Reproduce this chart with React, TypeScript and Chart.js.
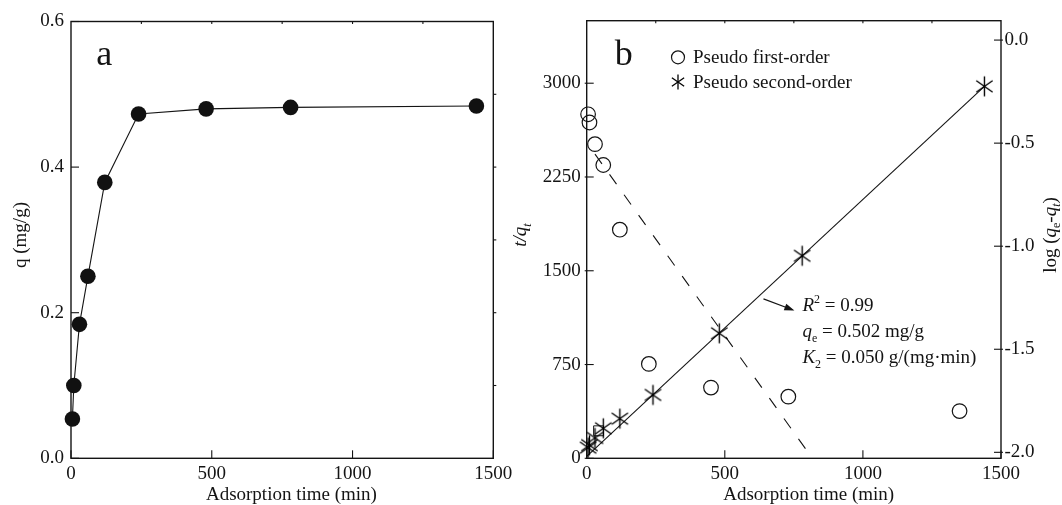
import React, { useEffect, useRef } from "react";
import { Chart, registerables } from "chart.js";

Chart.register(...registerables);

const W = 1062;
const H = 505;
const SERIF = "'Liberation Serif', 'Times New Roman', Times, serif";
const INK = "#141414";

// ---------- Panel a : q vs time ----------
const TIME_A = [5, 10, 30, 60, 120, 240, 480, 780, 1440];
const Q_A = [0.054, 0.1, 0.184, 0.25, 0.379, 0.473, 0.48, 0.482, 0.484];
const X_TICKS = [0, 500, 1000, 1500];
const X_MINOR = [250, 500, 750, 1000, 1250];
const Y_TICKS_A = [0, 0.2, 0.4, 0.6];
const Y_MINOR_A = [0.1, 0.2, 0.3, 0.4, 0.5];

// ---------- Panel b : kinetic fits ----------
const TIME_PSO = [5, 10, 30, 60, 120, 240, 480, 780, 1440];
const T_OVER_Q = [85, 105, 163, 240, 317, 507, 1000, 1620, 2975];
const TIME_PFO = [5, 10, 30, 60, 120, 225, 450, 730, 1350];
const LOG_QE_QT = [-0.36, -0.4, -0.505, -0.606, -0.92, -1.571, -1.686, -1.73, -1.8];
const PSO_FIT_T = [0, 1440];
const PSO_FIT_Y = [15, 2975];
const PFO_FIT_T = [30, 792];
const PFO_FIT_Y = [-0.553, -1.982];
const STRAY_T = [43];
const STRAY_Y = [220];
const Y_TICKS_B = [0, 750, 1500, 2250, 3000];
const Y2_TICKS_B = [0, -0.5, -1.0, -1.5, -2.0];
const LEGEND_LABELS = ["Pseudo first-order", "Pseudo second-order"];

type Run = { t: string; it?: boolean; sub?: boolean; sup?: boolean };

function runFont(r: Run, size: number) {
  const s = r.sub || r.sup ? Math.round(size * 0.63) : size;
  return `${r.it ? "italic " : ""}${s}px ${SERIF}`;
}
function richWidth(ctx: CanvasRenderingContext2D, runs: Run[], size: number) {
  let w = 0;
  runs.forEach((r) => {
    ctx.font = runFont(r, size);
    w += ctx.measureText(r.t).width;
  });
  return w;
}
function drawRich(ctx: CanvasRenderingContext2D, runs: Run[], x: number, y: number, size: number) {
  let cx = x;
  ctx.textAlign = "left";
  ctx.textBaseline = "alphabetic";
  runs.forEach((r) => {
    ctx.font = runFont(r, size);
    const dy = r.sub ? size * 0.24 : r.sup ? -size * 0.38 : 0;
    ctx.fillText(r.t, cx, y + dy);
    cx += ctx.measureText(r.t).width;
  });
}
function drawRichCentered(ctx: CanvasRenderingContext2D, runs: Run[], cx: number, y: number, size: number) {
  const w = richWidth(ctx, runs, size);
  drawRich(ctx, runs, cx - w / 2, y, size);
}
function drawRichRotated(ctx: CanvasRenderingContext2D, runs: Run[], bx: number, cy: number, size: number) {
  const w = richWidth(ctx, runs, size);
  ctx.save();
  ctx.translate(bx, cy);
  ctx.rotate(-Math.PI / 2);
  drawRich(ctx, runs, -w / 2, 0, size);
  ctx.restore();
}
function seg(ctx: CanvasRenderingContext2D, x1: number, y1: number, x2: number, y2: number) {
  ctx.beginPath();
  ctx.moveTo(x1, y1);
  ctx.lineTo(x2, y2);
  ctx.stroke();
}
function makeAsterisk(r: number, lw: number) {
  const size = Math.ceil(2 * r + 3);
  const c = document.createElement("canvas");
  c.width = size;
  c.height = size;
  const g = c.getContext("2d")!;
  g.strokeStyle = "#000";
  g.lineWidth = lw;
  const cx = size / 2;
  const cy = size / 2;
  [90, 35, 145].forEach((deg) => {
    const a = (deg * Math.PI) / 180;
    g.beginPath();
    g.moveTo(cx - r * Math.cos(a), cy - r * Math.sin(a));
    g.lineTo(cx + r * Math.cos(a), cy + r * Math.sin(a));
    g.stroke();
  });
  return c;
}

const tickFont = { family: SERIF, size: 19 };
const fixedTicks = (values: number[]) => (s: any) => {
  s.ticks = values.map((v) => ({ value: v }));
};

export default function App() {
  const refA = useRef<HTMLCanvasElement>(null);
  const refB = useRef<HTMLCanvasElement>(null);

  useEffect(() => {
    const star = makeAsterisk(10, 1.4);
    const starLegend = makeAsterisk(7.5, 1.3);

    const frameA = {
      id: "frameA",
      beforeDatasetsDraw(chart: any) {
        const { ctx, chartArea: a, scales } = chart;
        ctx.save();
        ctx.strokeStyle = INK;
        ctx.lineWidth = 1.4;
        ctx.strokeRect(a.left, a.top, a.right - a.left, a.bottom - a.top);
        ctx.lineWidth = 1.1;
        X_TICKS.forEach((v) => {
          const p = scales.x.getPixelForValue(v);
          seg(ctx, p, a.bottom, p, a.bottom - 8);
        });
        Y_TICKS_A.forEach((v) => {
          const p = scales.y.getPixelForValue(v);
          seg(ctx, a.left, p, a.left + 8, p);
        });
        X_MINOR.forEach((v) => {
          const p = scales.x.getPixelForValue(v);
          seg(ctx, p, a.top, p, a.top + 2.5);
        });
        Y_MINOR_A.forEach((v) => {
          const p = scales.y.getPixelForValue(v);
          seg(ctx, a.right, p, a.right + 3, p);
        });
        ctx.restore();
      },
      afterDraw(chart: any) {
        const { ctx } = chart;
        ctx.save();
        ctx.fillStyle = INK;
        drawRich(ctx, [{ t: "a" }], 96.3, 65, 36);
        drawRichRotated(ctx, [{ t: "q (mg/g)" }], 25.5, 235, 19);
        drawRichCentered(ctx, [{ t: "Adsorption time (min)" }], 291.4, 500, 19);
        ctx.restore();
      },
    };

    const frameB = {
      id: "frameB",
      beforeDatasetsDraw(chart: any) {
        const { ctx, chartArea: a, scales } = chart;
        ctx.save();
        ctx.strokeStyle = INK;
        ctx.lineWidth = 1.4;
        ctx.strokeRect(a.left, a.top, a.right - a.left, a.bottom - a.top);
        ctx.lineWidth = 1.1;
        X_TICKS.forEach((v) => {
          const p = scales.x.getPixelForValue(v);
          seg(ctx, p, a.bottom, p, a.bottom - 8);
        });
        X_MINOR.forEach((v) => {
          const p = scales.x.getPixelForValue(v);
          seg(ctx, p, a.top, p, a.top + 2.5);
        });
        Y_TICKS_B.forEach((v) => {
          const p = scales.y.getPixelForValue(v);
          seg(ctx, a.left - 2, p, a.left + 7, p);
        });
        Y2_TICKS_B.forEach((v) => {
          const p = scales.y2.getPixelForValue(v);
          seg(ctx, a.right + 2, p, a.right - 7, p);
        });
        ctx.restore();
      },
      afterDraw(chart: any) {
        const { ctx, scales } = chart;
        const xs = scales.x;
        const ys = scales.y;
        ctx.save();
        ctx.fillStyle = INK;
        ctx.strokeStyle = INK;
        drawRich(ctx, [{ t: "b" }], 614.8, 65, 36);

        // legend
        ctx.lineWidth = 1.2;
        ctx.beginPath();
        ctx.arc(678, 57.3, 6.5, 0, Math.PI * 2);
        ctx.stroke();
        ctx.drawImage(starLegend, Math.round(678 - starLegend.width / 2), Math.round(82.3 - starLegend.height / 2));
        drawRich(ctx, [{ t: LEGEND_LABELS[0] }], 693, 62.5, 19);
        drawRich(ctx, [{ t: LEGEND_LABELS[1] }], 693, 87.5, 19);

        // annotation arrow, anchored in data space
        const tx = xs.getPixelForValue(640);
        const ty = ys.getPixelForValue(1275);
        const hx = xs.getPixelForValue(752);
        const hy = ys.getPixelForValue(1182);
        ctx.lineWidth = 1.1;
        seg(ctx, tx, ty, hx - 2, hy - 0.8);
        const ang = Math.atan2(hy - ty, hx - tx);
        ctx.beginPath();
        ctx.moveTo(hx, hy);
        ctx.lineTo(hx - 10 * Math.cos(ang) + 3.5 * Math.sin(ang), hy - 10 * Math.sin(ang) - 3.5 * Math.cos(ang));
        ctx.lineTo(hx - 10 * Math.cos(ang) - 3.5 * Math.sin(ang), hy - 10 * Math.sin(ang) + 3.5 * Math.cos(ang));
        ctx.closePath();
        ctx.fill();

        const ax = xs.getPixelForValue(781);
        drawRich(ctx, [{ t: "R", it: true }, { t: "2", sup: true }, { t: " = 0.99" }], ax, 310.7, 19);
        drawRich(ctx, [{ t: "q", it: true }, { t: "e", sub: true }, { t: " = 0.502 mg/g" }], ax, 337, 19);
        drawRich(
          ctx,
          [{ t: "K", it: true }, { t: "2", sub: true }, { t: " = 0.050 g/(mg\u00b7min)" }],
          ax,
          363.3,
          19
        );

        // axis titles
        drawRichCentered(ctx, [{ t: "Adsorption time (min)" }], 808.7, 500, 19);
        drawRichRotated(ctx, [{ t: "t/q", it: true }, { t: "t", it: true, sub: true }], 526, 235, 19);
        drawRichRotated(
          ctx,
          [
            { t: "log (" },
            { t: "q", it: true },
            { t: "e", sub: true },
            { t: "-" },
            { t: "q", it: true },
            { t: "t", it: true, sub: true },
            { t: ")" },
          ],
          1055.5,
          235,
          19
        );
        ctx.restore();
      },
    };

    const baseX = (h: number) => ({
      type: "linear" as const,
      position: "bottom" as const,
      min: 0,
      max: 1500,
      afterBuildTicks: fixedTicks(X_TICKS),
      afterFit: (s: any) => {
        s.height = h;
      },
      grid: { display: false, drawTicks: false },
      border: { display: false },
      ticks: {
        color: INK,
        font: tickFont,
        padding: 4,
        maxRotation: 0,
        autoSkip: false,
        callback: (v: any) => String(v),
      },
    });

    const chartA = new Chart(refA.current!, {
      type: "scatter",
      data: {
        datasets: [
          {
            label: "q",
            data: TIME_A.map((t, i) => ({ x: t, y: Q_A[i] })),
            showLine: true,
            borderColor: INK,
            borderWidth: 1.1,
            pointRadius: 7.8,
            pointHoverRadius: 7.8,
            pointBackgroundColor: "#111",
            pointBorderColor: "#111",
            pointBorderWidth: 0,
            clip: false,
          } as any,
        ],
      },
      options: {
        responsive: false,
        animation: false,
        events: [],
        layout: { padding: { left: 0, top: 21.5, right: W - 493.3, bottom: 0 } },
        plugins: { legend: { display: false }, tooltip: { enabled: false } },
        scales: {
          x: baseX(H - 458.3),
          y: {
            type: "linear",
            position: "left",
            min: 0,
            max: 0.6,
            afterBuildTicks: fixedTicks(Y_TICKS_A),
            afterFit: (s: any) => {
              s.width = 71;
            },
            grid: { display: false, drawTicks: false },
            border: { display: false },
            ticks: { color: INK, font: tickFont, padding: 7, callback: (v: any) => Number(v).toFixed(1) },
          },
        },
      } as any,
      plugins: [frameA],
    });

    const chartB = new Chart(refB.current!, {
      type: "scatter",
      data: {
        datasets: [
          {
            label: "Pseudo second-order",
            data: TIME_PSO.map((t, i) => ({ x: t, y: T_OVER_Q[i] })),
            yAxisID: "y",
            showLine: false,
            pointStyle: star,
            pointRadius: 10,
            order: 1,
            clip: false,
          } as any,
          {
            label: "Pseudo first-order",
            data: TIME_PFO.map((t, i) => ({ x: t, y: LOG_QE_QT[i] })),
            yAxisID: "y2",
            showLine: false,
            pointStyle: "circle",
            pointRadius: 7.3,
            pointBackgroundColor: "rgba(255,255,255,0)",
            pointBorderColor: INK,
            pointBorderWidth: 1.2,
            order: 2,
            clip: false,
          } as any,
          {
            label: "stray",
            data: STRAY_T.map((t, i) => ({ x: t, y: STRAY_Y[i] })),
            yAxisID: "y",
            showLine: false,
            pointStyle: "rect",
            pointRadius: 7,
            pointBackgroundColor: "rgba(255,255,255,0)",
            pointBorderColor: INK,
            pointBorderWidth: 1,
            order: 3,
            clip: false,
          } as any,
          {
            label: "PSO fit",
            data: PSO_FIT_T.map((t, i) => ({ x: t, y: PSO_FIT_Y[i] })),
            yAxisID: "y",
            showLine: true,
            borderColor: INK,
            borderWidth: 1.1,
            pointRadius: 0,
            order: 5,
          } as any,
          {
            label: "PFO fit",
            data: PFO_FIT_T.map((t, i) => ({ x: t, y: PFO_FIT_Y[i] })),
            yAxisID: "y2",
            showLine: true,
            borderColor: INK,
            borderWidth: 1.1,
            borderDash: [12, 13],
            pointRadius: 0,
            order: 6,
          } as any,
        ],
      },
      options: {
        responsive: false,
        animation: false,
        events: [],
        layout: { padding: { left: 530, top: 20.7, right: 0, bottom: 0 } },
        plugins: { legend: { display: false }, tooltip: { enabled: false } },
        scales: {
          x: baseX(H - 458.3),
          y: {
            type: "linear",
            position: "left",
            min: 0,
            max: 3500,
            afterBuildTicks: fixedTicks(Y_TICKS_B),
            afterFit: (s: any) => {
              s.width = 586.7 - 530;
            },
            grid: { display: false, drawTicks: false },
            border: { display: false },
            ticks: { color: INK, font: tickFont, padding: 6, callback: (v: any) => String(v) },
          },
          y2: {
            type: "linear",
            position: "right",
            min: -2.029,
            max: 0.094,
            afterBuildTicks: fixedTicks(Y2_TICKS_B),
            afterFit: (s: any) => {
              s.width = W - 1001;
            },
            grid: { display: false, drawTicks: false },
            border: { display: false },
            ticks: { color: INK, font: tickFont, padding: 3.5, callback: (v: any) => Number(v).toFixed(1) },
          },
        },
      } as any,
      plugins: [frameB],
    });

    return () => {
      chartA.destroy();
      chartB.destroy();
    };
  }, []);

  return (
    <div style={{ position: "fixed", left: 0, top: 0, width: W, height: H, background: "#fff" }}>
      <canvas ref={refA} width={W} height={H} style={{ position: "absolute", left: 0, top: 0 }} />
      <canvas ref={refB} width={W} height={H} style={{ position: "absolute", left: 0, top: 0 }} />
    </div>
  );
}
